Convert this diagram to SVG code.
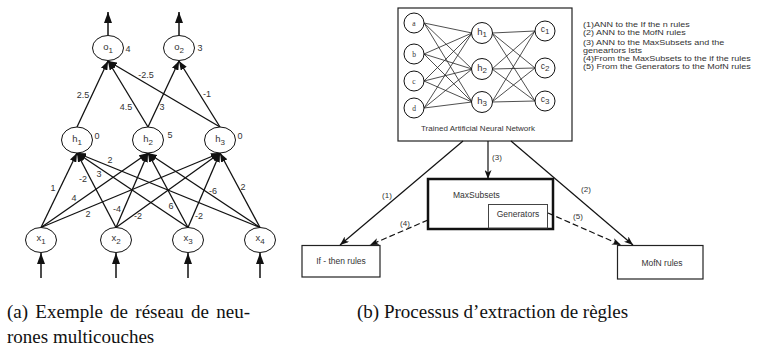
<svg xmlns="http://www.w3.org/2000/svg" width="758" height="350" viewBox="0 0 758 350">
<style>
.nd{fill:#fff;stroke:#111;stroke-width:1}
.ea{stroke:#111;stroke-width:1.3;fill:none;marker-end:url(#ah)}
.eb{stroke:#111;stroke-width:1.5;fill:none;marker-end:url(#ahb)}
.en{stroke:#222;stroke-width:0.8;fill:none}
.er{stroke:#111;stroke-width:1.2;fill:none;marker-end:url(#ahr)}
.ed{stroke:#111;stroke-width:1.2;fill:none;stroke-dasharray:6 3;marker-end:url(#ahr)}
.t{font-family:"Liberation Sans",Arial,sans-serif;fill:#333}
.lb{font-size:9.5px;text-anchor:middle}
.w{font-size:9px;text-anchor:middle}
.sm{font-size:8px}
.sf{font-family:"Liberation Serif","Times New Roman",serif;fill:#333;font-size:7.5px;text-anchor:middle}
.cap{font-family:"Liberation Serif","Times New Roman",serif;fill:#111;font-size:19px}
.box{fill:#fff;stroke:#222;stroke-width:1.2}
</style>
<defs>
<marker id="ah" markerWidth="9" markerHeight="7" refX="9" refY="3.5" orient="auto" markerUnits="userSpaceOnUse"><path d="M0,0 L9,3.5 L0,7 Z" fill="#111"/></marker>
<marker id="ahb" markerWidth="11" markerHeight="8" refX="11" refY="4" orient="auto" markerUnits="userSpaceOnUse"><path d="M0,0 L11,4 L0,8 Z" fill="#111"/></marker>
<marker id="ahr" markerWidth="9" markerHeight="7" refX="9" refY="3.5" orient="auto" markerUnits="userSpaceOnUse"><path d="M0,0 L9,3.5 L0,7 L2.5,3.5 Z" fill="#111"/></marker>
</defs>

<!-- (a) multilayer network -->
<g id="connectors-a">
<line class="eb" x1="108" y1="35" x2="108" y2="12"/>
<line class="eb" x1="179" y1="35" x2="179" y2="12"/>
<line class="eb" x1="41" y1="278" x2="41" y2="253"/>
<line class="eb" x1="116" y1="278" x2="116" y2="253"/>
<line class="eb" x1="188" y1="278" x2="188" y2="253"/>
<line class="eb" x1="260" y1="278" x2="260" y2="253"/>
<line class="ea" x1="77" y1="127" x2="108" y2="61"/>
<line class="ea" x1="148" y1="127" x2="108" y2="61"/>
<line class="ea" x1="148" y1="127" x2="179" y2="61"/>
<line class="ea" x1="220" y1="127" x2="108" y2="61"/>
<line class="ea" x1="220" y1="127" x2="179" y2="61"/>
<line class="ea" x1="41" y1="227.5" x2="77" y2="153"/>
<line class="ea" x1="41" y1="227.5" x2="148" y2="153"/>
<line class="ea" x1="41" y1="227.5" x2="220" y2="153"/>
<line class="ea" x1="116" y1="227.5" x2="77" y2="153"/>
<line class="ea" x1="116" y1="227.5" x2="148" y2="153"/>
<line class="ea" x1="116" y1="227.5" x2="220" y2="153"/>
<line class="ea" x1="188" y1="227.5" x2="77" y2="153"/>
<line class="ea" x1="188" y1="227.5" x2="148" y2="153"/>
<line class="ea" x1="188" y1="227.5" x2="220" y2="153"/>
<line class="ea" x1="260" y1="227.5" x2="77" y2="153"/>
<line class="ea" x1="260" y1="227.5" x2="148" y2="153"/>
<line class="ea" x1="260" y1="227.5" x2="220" y2="153"/>
</g>
<g id="weights-a" class="t w">
<text x="83" y="98">2.5</text>
<text x="126" y="110">4.5</text>
<text x="162" y="110">3</text>
<text x="146" y="78">-2.5</text>
<text x="207" y="97">-1</text>
<text x="53" y="191">1</text>
<text x="74" y="201">4</text>
<text x="88" y="217">2</text>
<text x="83" y="182">-2</text>
<text x="117" y="212">-4</text>
<text x="138" y="219">-2</text>
<text x="99" y="177">3</text>
<text x="171" y="209">6</text>
<text x="199" y="219">-2</text>
<text x="110" y="163">2</text>
<text x="213" y="194">-6</text>
<text x="243" y="190">2</text>
</g>
<g id="o1"><ellipse class="nd" cx="108" cy="48" rx="15.5" ry="12.5"/><text class="t lb" x="108" y="50">o<tspan class="sm" dy="3">1</tspan></text><text class="t w" x="128" y="52">4</text></g>
<g id="o2"><ellipse class="nd" cx="179" cy="48" rx="15.5" ry="12.5"/><text class="t lb" x="179" y="50">o<tspan class="sm" dy="3">2</tspan></text><text class="t w" x="200" y="51">3</text></g>
<g id="h1"><ellipse class="nd" cx="77" cy="140" rx="15.5" ry="13"/><text class="t lb" x="77" y="142">h<tspan class="sm" dy="3">1</tspan></text><text class="t w" x="97" y="139">0</text></g>
<g id="h2"><ellipse class="nd" cx="148" cy="140" rx="15.5" ry="13"/><text class="t lb" x="148" y="142">h<tspan class="sm" dy="3">2</tspan></text><text class="t w" x="170" y="138">5</text></g>
<g id="h3"><ellipse class="nd" cx="220" cy="140" rx="15.5" ry="13"/><text class="t lb" x="220" y="142">h<tspan class="sm" dy="3">3</tspan></text><text class="t w" x="240" y="139">0</text></g>
<g id="x1"><ellipse class="nd" cx="41" cy="240" rx="15.5" ry="12.5"/><text class="t lb" x="41" y="241">x<tspan class="sm" dy="3">1</tspan></text></g>
<g id="x2"><ellipse class="nd" cx="116" cy="240" rx="15.5" ry="12.5"/><text class="t lb" x="116" y="241">x<tspan class="sm" dy="3">2</tspan></text></g>
<g id="x3"><ellipse class="nd" cx="188" cy="240" rx="15.5" ry="12.5"/><text class="t lb" x="188" y="241">x<tspan class="sm" dy="3">3</tspan></text></g>
<g id="x4"><ellipse class="nd" cx="260" cy="240" rx="15.5" ry="12.5"/><text class="t lb" x="260" y="241">x<tspan class="sm" dy="3">4</tspan></text></g>

<!-- (b) rule extraction process -->
<g id="ann">
<rect class="box" x="398" y="8" width="174" height="133"/>
<g id="ann-edges">
<line class="en" x1="424" y1="23" x2="472" y2="33"/><line class="en" x1="424" y1="23" x2="472" y2="69"/><line class="en" x1="424" y1="23" x2="472" y2="102"/>
<line class="en" x1="424" y1="54" x2="472" y2="33"/><line class="en" x1="424" y1="54" x2="472" y2="69"/><line class="en" x1="424" y1="54" x2="472" y2="102"/>
<line class="en" x1="424" y1="81" x2="472" y2="33"/><line class="en" x1="424" y1="81" x2="472" y2="69"/><line class="en" x1="424" y1="81" x2="472" y2="102"/>
<line class="en" x1="424" y1="108" x2="472" y2="33"/><line class="en" x1="424" y1="108" x2="472" y2="69"/><line class="en" x1="424" y1="108" x2="472" y2="102"/>
<line class="en" x1="492" y1="33" x2="535" y2="31"/><line class="en" x1="492" y1="33" x2="535" y2="68"/><line class="en" x1="492" y1="33" x2="535" y2="101"/>
<line class="en" x1="492" y1="69" x2="535" y2="31"/><line class="en" x1="492" y1="69" x2="535" y2="68"/><line class="en" x1="492" y1="69" x2="535" y2="101"/>
<line class="en" x1="492" y1="102" x2="535" y2="31"/><line class="en" x1="492" y1="102" x2="535" y2="68"/><line class="en" x1="492" y1="102" x2="535" y2="101"/>
</g>
<g id="na"><circle class="nd" cx="414" cy="23" r="10"/><text class="sf" x="414" y="26">a</text></g>
<g id="nb"><circle class="nd" cx="414" cy="54" r="10"/><text class="sf" x="414" y="57">b</text></g>
<g id="nc"><circle class="nd" cx="414" cy="81" r="10"/><text class="sf" x="414" y="84">c</text></g>
<g id="ndd"><circle class="nd" cx="414" cy="108" r="10"/><text class="sf" x="414" y="111">d</text></g>
<g id="nh1"><circle class="nd" cx="482" cy="33" r="10.5"/><text class="t lb" x="482" y="35">h<tspan class="sm" dy="2">1</tspan></text></g>
<g id="nh2"><circle class="nd" cx="482" cy="69" r="10.5"/><text class="t lb" x="482" y="71">h<tspan class="sm" dy="2">2</tspan></text></g>
<g id="nh3"><circle class="nd" cx="482" cy="102" r="10.5"/><text class="t lb" x="482" y="104">h<tspan class="sm" dy="2">3</tspan></text></g>
<g id="nc1"><circle class="nd" cx="545" cy="31" r="10"/><text class="t" font-size="8.5" text-anchor="middle" x="545" y="32">c<tspan class="sm" dy="2">1</tspan></text></g>
<g id="nc2"><circle class="nd" cx="545" cy="68" r="10"/><text class="t" font-size="8.5" text-anchor="middle" x="545" y="69">c<tspan class="sm" dy="2">2</tspan></text></g>
<g id="nc3"><circle class="nd" cx="545" cy="101" r="10"/><text class="t" font-size="8.5" text-anchor="middle" x="545" y="102">c<tspan class="sm" dy="2">3</tspan></text></g>
<text class="t" font-size="8px" text-anchor="middle" x="478" y="131">Trained Artificial Neural Network</text>
</g>
<g id="legend" class="t" font-size="7.5px" transform="translate(583,0) scale(1.2,1)">
<text x="0" y="27">(1)ANN to the If the n rules</text>
<text x="0" y="35">(2) ANN to the MofN rules</text>
<text x="0" y="45">(3) ANN to the MaxSubsets and the</text>
<text x="0" y="53">geneartors lsts</text>
<text x="0" y="61">(4)From the MaxSubsets to the if the rules</text>
<text x="0" y="69">(5) From the Generators to the MofN rules</text>
</g>
<g id="maxsubsets">
<rect x="428" y="179" width="125" height="50" fill="#fff" stroke="#111" stroke-width="2.5"/>
<text class="t" font-size="8.5px" x="453" y="198">MaxSubsets</text>
</g>
<g id="generators">
<rect x="488.5" y="204.5" width="59" height="23.5" fill="#fff" stroke="#444" stroke-width="1"/>
<text class="t" font-size="8.5px" text-anchor="middle" x="518" y="217">Generators</text>
</g>
<g id="ifthen">
<rect class="box" x="302" y="245.5" width="78" height="31.5"/>
<text class="t" font-size="8.5px" text-anchor="middle" x="341" y="264">If - then rules</text>
</g>
<g id="mofn">
<rect class="box" x="617.5" y="245.5" width="85.5" height="33.5"/>
<text class="t" font-size="8.5px" text-anchor="middle" x="662" y="266">MofN rules</text>
</g>
<g id="connectors-b">
<line class="er" x1="463" y1="141" x2="340" y2="245"/>
<line class="er" x1="488" y1="141" x2="488" y2="179"/>
<line class="er" x1="511" y1="141" x2="633" y2="245"/>
<line class="ed" x1="428" y1="220" x2="370" y2="245"/>
<line class="ed" x1="548" y1="213" x2="621" y2="245"/>
</g>
<g id="labels-b" class="t" font-size="8px" text-anchor="middle">
<text x="497" y="160">(3)</text>
<text x="387" y="198">(1)</text>
<text x="586" y="192">(2)</text>
<text x="405" y="226">(4)</text>
<text x="578" y="219">(5)</text>
</g>

<g id="captions">
<text class="cap" x="7" y="318" word-spacing="2.5">(a) Exemple de réseau de neu-</text>
<text class="cap" x="7" y="343">rones multicouches</text>
<text class="cap" x="357" y="318">(b) Processus d’extraction de règles</text>
</g>
</svg>
